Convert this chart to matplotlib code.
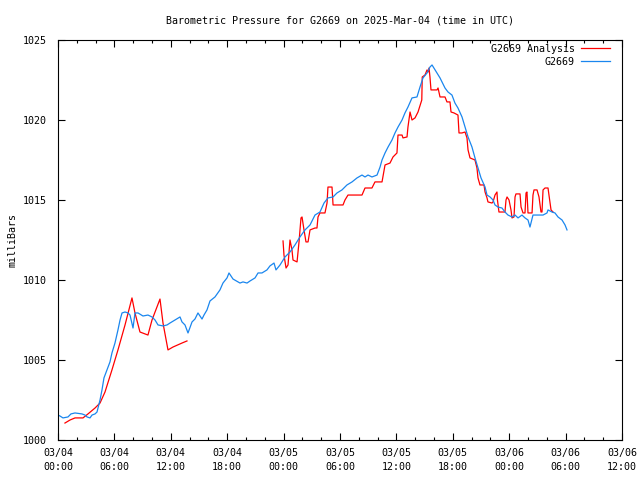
import matplotlib
matplotlib.use("Agg")
import matplotlib.pyplot as plt
from matplotlib.ticker import MultipleLocator

# ---- data (hours since 2025-03-04 00:00 UTC, millibars) ----
obs_hours = [0.00, 0.21, 0.53, 1.06, 1.38, 1.81, 2.55, 2.87, 3.09, 3.40, 3.62, 3.94, 4.15, 4.47, 4.68, 4.89,
             5.21, 5.53, 5.74, 6.06, 6.38, 6.60, 6.81, 7.13, 7.45, 7.66, 7.98, 8.19, 8.51, 9.04, 9.57, 10.00,
             10.32, 10.64, 11.17, 11.60, 11.91, 12.45, 12.98, 13.19, 13.51, 13.83, 14.26, 14.57, 14.89, 15.32,
             15.53, 15.85, 16.17, 16.70, 17.23, 17.55, 17.98, 18.19, 18.62, 19.15, 19.36, 19.68, 20.11, 20.43,
             20.96, 21.28, 21.70, 22.23, 22.55, 22.98, 23.19, 23.62, 24.15, 24.68, 25.21, 25.74, 26.28, 26.81,
             27.34, 27.87, 28.30, 28.72, 29.26, 29.68, 30.21, 30.74, 31.28, 31.81, 32.34, 32.66, 32.98, 33.40,
             33.94, 34.26, 34.47, 34.79, 35.11, 35.53, 35.85, 36.17, 36.60, 36.91, 37.23, 37.66, 38.19, 38.51,
             38.83, 39.26, 39.57, 39.79, 40.32, 40.64, 41.17, 41.49, 41.91, 42.23, 42.55, 42.98, 43.30, 43.62,
             44.04, 44.36, 44.68, 45.00, 45.43, 45.64, 45.96, 46.28, 46.49, 46.81, 47.23, 47.55, 47.87, 48.30,
             48.62, 48.94, 49.36, 49.68, 50.00, 50.21, 50.53, 51.60, 52.02, 52.13, 52.55, 52.87, 53.19, 53.62,
             53.94, 54.15]
obs_mb = [1001.56, 1001.50, 1001.38, 1001.44, 1001.63, 1001.69, 1001.63, 1001.56, 1001.44, 1001.38, 1001.56,
          1001.63, 1001.75, 1002.50, 1003.13, 1003.88, 1004.38, 1004.88, 1005.44, 1006.06, 1006.88, 1007.50,
          1007.94, 1008.00, 1007.94, 1007.81, 1007.00, 1007.94, 1007.94, 1007.75, 1007.81, 1007.69, 1007.50,
          1007.19, 1007.13, 1007.19, 1007.31, 1007.50, 1007.69, 1007.38, 1007.19, 1006.69, 1007.38, 1007.56,
          1007.94, 1007.56, 1007.81, 1008.13, 1008.69, 1008.94, 1009.38, 1009.81, 1010.13, 1010.44, 1010.06,
          1009.88, 1009.81, 1009.88, 1009.81, 1009.94, 1010.13, 1010.44, 1010.44, 1010.63, 1010.88, 1011.06,
          1010.63, 1010.94, 1011.44, 1011.75, 1012.19, 1012.69, 1013.13, 1013.44, 1014.06, 1014.25, 1014.81,
          1015.13, 1015.19, 1015.44, 1015.63, 1015.94, 1016.13, 1016.38, 1016.56, 1016.44, 1016.56, 1016.44,
          1016.56, 1017.06, 1017.50, 1017.94, 1018.31, 1018.75, 1019.19, 1019.56, 1020.00, 1020.44, 1020.81,
          1021.38, 1021.44, 1022.06, 1022.63, 1022.94, 1023.31, 1023.44, 1022.94, 1022.63, 1022.00, 1021.75,
          1021.56, 1021.06, 1020.75, 1020.19, 1019.56, 1018.94, 1018.31, 1017.63, 1017.00, 1016.38, 1015.81,
          1015.31, 1015.19, 1015.00, 1014.69, 1014.56, 1014.50, 1014.25, 1014.06, 1013.94, 1014.06, 1013.88,
          1014.06, 1013.88, 1013.75, 1013.31, 1014.06, 1014.06, 1014.19, 1014.38, 1014.25, 1014.19, 1013.94,
          1013.75, 1013.44, 1013.13]

ana1_hours = [0.74, 1.28, 1.81, 2.66, 3.19, 3.94, 4.47, 5.00, 5.74, 6.38, 7.13, 7.87, 8.19, 8.72, 9.57,
              10.00, 10.85, 11.17, 11.70, 12.23, 13.19, 13.72]
ana1_mb = [1001.06, 1001.25, 1001.38, 1001.38, 1001.63, 1002.00, 1002.31, 1003.00, 1004.38, 1005.63, 1007.19,
           1008.88, 1007.94, 1006.75, 1006.56, 1007.50, 1008.81, 1007.31, 1005.63, 1005.81, 1006.06, 1006.19]

ana2_hours = [23.94, 24.04, 24.26, 24.47, 24.68, 24.89, 25.00, 25.43, 25.64, 25.85, 25.96, 26.17, 26.38, 26.60,
              26.81, 27.34, 27.55, 27.66, 27.87, 28.40, 28.62, 28.72, 29.15, 29.26, 29.68, 30.32, 30.53, 30.85,
              32.34, 32.66, 33.40, 33.72, 34.47, 34.79, 35.32, 35.64, 36.06, 36.17, 36.60, 36.70, 37.13, 37.23,
              37.45, 37.66, 37.98, 38.30, 38.70, 38.75, 39.04, 39.26, 39.36, 39.47, 39.57, 39.68, 40.32, 40.43,
              40.64, 41.17, 41.38, 41.70, 41.81, 42.13, 42.55, 42.66, 42.98, 43.30, 43.51, 43.62, 43.83, 44.36,
              44.57, 44.68, 44.89, 45.32, 45.43, 45.64, 45.74, 46.17, 46.28, 46.49, 46.70, 46.75, 46.91, 47.55,
              47.66, 47.77, 47.98, 48.19, 48.30, 48.51, 48.62, 48.72, 49.15, 49.26, 49.47, 49.68, 49.79, 49.89,
              50.00, 50.43, 50.53, 50.64, 50.96, 51.17, 51.38, 51.49, 51.60, 51.81, 52.13, 52.23, 52.45, 52.66]
ana2_mb = [1012.44, 1011.56, 1010.75, 1010.94, 1012.50, 1011.88, 1011.25, 1011.13, 1012.38, 1013.88, 1013.94,
           1013.13, 1012.38, 1012.38, 1013.13, 1013.25, 1013.25, 1013.94, 1014.19, 1014.19, 1014.81, 1015.81,
           1015.81, 1014.69, 1014.69, 1014.69, 1015.00, 1015.31, 1015.31, 1015.75, 1015.75, 1016.13, 1016.13,
           1017.19, 1017.31, 1017.69, 1017.94, 1019.06, 1019.06, 1018.88, 1018.94, 1019.56, 1020.50, 1020.00,
           1020.13, 1020.50, 1021.25, 1022.69, 1022.81, 1023.13, 1023.00, 1023.25, 1022.69, 1021.88, 1021.88,
           1022.00, 1021.44, 1021.44, 1021.13, 1021.13, 1020.50, 1020.44, 1020.31, 1019.19, 1019.19, 1019.25,
           1018.88, 1018.13, 1017.63, 1017.50, 1017.00, 1016.38, 1015.94, 1015.94, 1015.50, 1015.13, 1014.88,
           1014.81, 1014.88, 1015.31, 1015.50, 1015.00, 1014.25, 1014.25, 1015.00, 1015.19, 1015.00, 1014.38,
           1013.88, 1013.94, 1015.19, 1015.38, 1015.38, 1014.56, 1014.19, 1014.19, 1015.44, 1015.50, 1014.19,
           1014.19, 1015.31, 1015.63, 1015.63, 1015.19, 1014.25, 1014.25, 1015.63, 1015.75, 1015.75, 1015.31,
           1014.38, 1014.25]

xtick_hours = [0, 6, 12, 18, 24, 30, 36, 42, 48, 54, 60]
xtick_labels = ["03/04\n00:00", "03/04\n06:00", "03/04\n12:00", "03/04\n18:00", "03/05\n00:00",
                "03/05\n06:00", "03/05\n12:00", "03/05\n18:00", "03/06\n00:00", "03/06\n06:00",
                "03/06\n12:00"]
ytick_values = [1000, 1005, 1010, 1015, 1020, 1025]

title = "Barometric Pressure for G2669 on 2025-Mar-04 (time in UTC)"
ylabel = "milliBars"
ana_label = "G2669 Analysis"
obs_label = "G2669"

# ---- plotting ----
plt.rcParams['font.family'] = ['DejaVu Sans Mono']
plt.rcParams['font.size'] = 7.2

fig = plt.figure(figsize=(6.4, 4.8), dpi=100)
ax = fig.add_axes([58/640, 1-440/480, (622-58)/640, 400/480])

red = '#ff0000'
blue = '#1a86ee'
lw = 0.9
ax.plot(ana1_hours, ana1_mb, color=red, lw=lw, label=ana_label)
ax.plot(ana2_hours, ana2_mb, color=red, lw=lw)
ax.plot(obs_hours, obs_mb, color=blue, lw=lw, label=obs_label)

ax.set_xlim(0, 60)
ax.set_ylim(1000, 1025)
ax.set_xticks(xtick_hours)
ax.set_xticklabels(xtick_labels, linespacing=1.45)
ax.xaxis.set_minor_locator(MultipleLocator(2))
ax.set_yticks(ytick_values)
ax.tick_params(which='both', direction='in', top=True, right=True, width=0.8, color='black')
ax.tick_params(which='major', length=5, pad=6)
ax.tick_params(which='minor', length=2.5)
ax.tick_params(axis='y', pad=8)
for s in ax.spines.values():
    s.set_linewidth(0.8)

ax.set_title(title, fontsize=7.2, pad=12)
ax.set_ylabel(ylabel, labelpad=4)

leg = ax.legend(loc='upper right', frameon=False, markerfirst=False, handlelength=2.9,
                handletextpad=0.6, labelspacing=0.3, borderaxespad=0.0,
                bbox_to_anchor=(0.985, 1.0))

fig.savefig("out.png", dpi=100)
